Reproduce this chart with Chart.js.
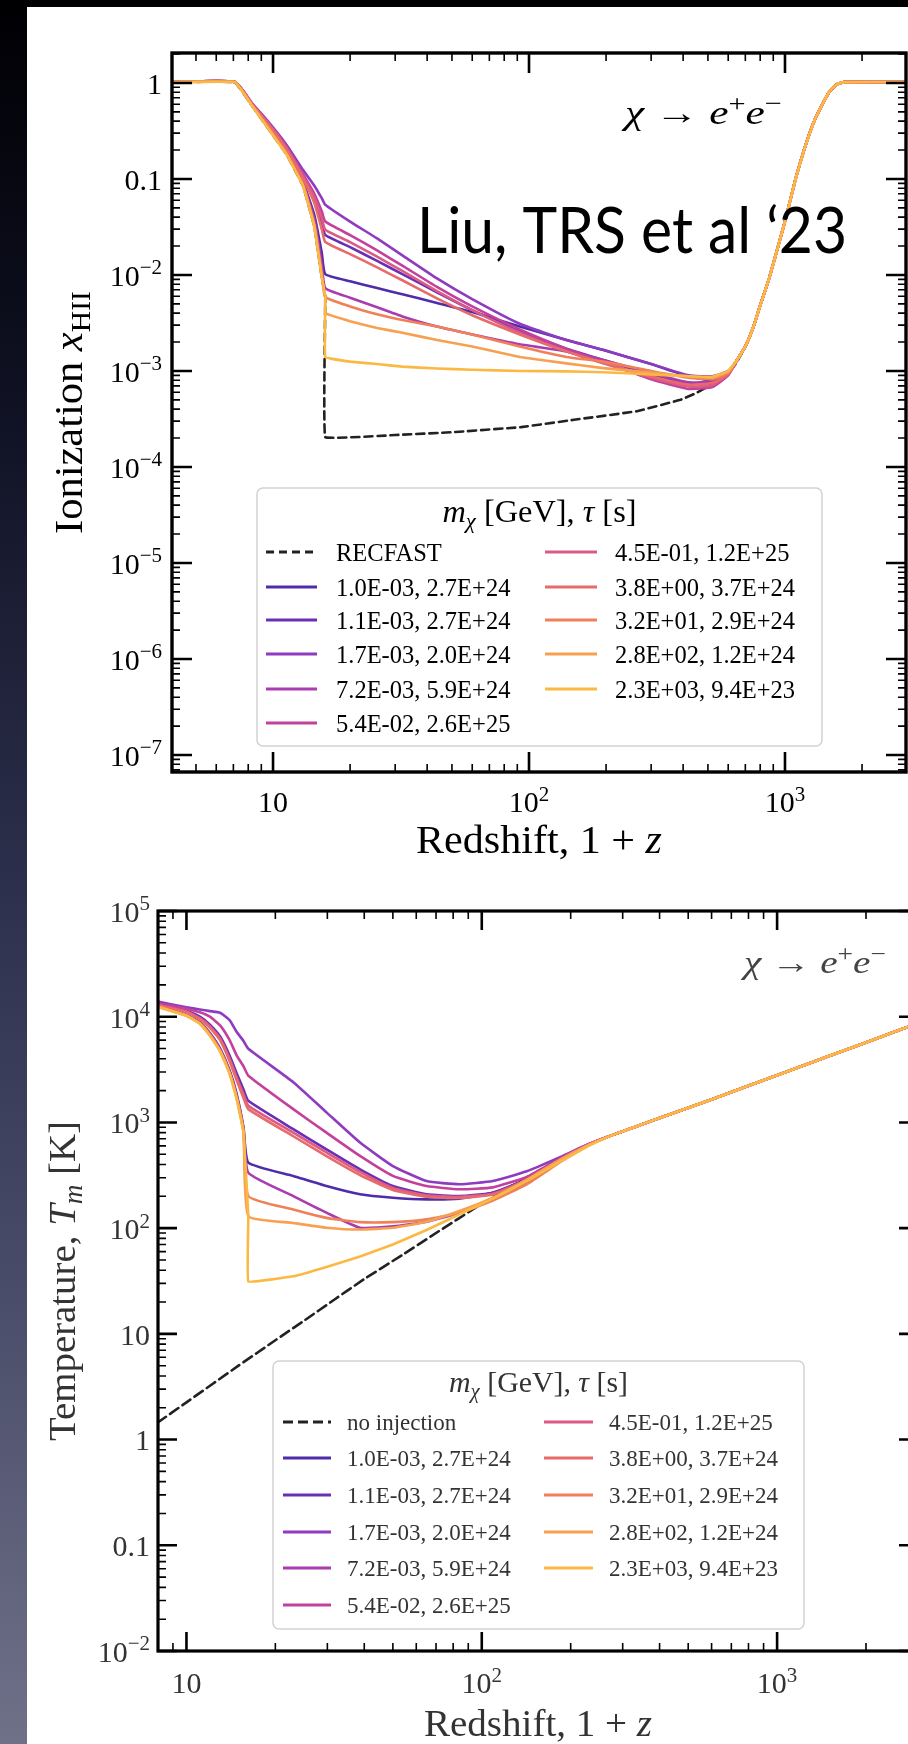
<!DOCTYPE html>
<html>
<head>
<meta charset="utf-8">
<script src="https://cdn.jsdelivr.net/npm/chart.js@4.4.1/dist/chart.umd.min.js"></script>
<style>
  html, body { margin: 0; padding: 0; width: 908px; height: 1744px; overflow: hidden; }
  body { position: relative; background: linear-gradient(#000003 0%, #111326 25%, #2c2f4b 50%, #4b4e6a 75%, #6f7189 100%); }
  #panel { position: absolute; left: 27px; top: 7px; width: 881px; height: 1737px; background: #fff; }
  canvas { position: absolute; left: 0; }
  #c1 { top: 0; }
  #c2 { top: 870px; }
</style>
</head>
<body>
<div id="panel"></div>
<canvas id="c1" width="908" height="870"></canvas>
<canvas id="c2" width="930" height="874"></canvas>
<script>
// ---- data ----
const seriesLabels = ['1.0E-03, 2.7E+24', '1.1E-03, 2.7E+24', '1.7E-03, 2.0E+24', '7.2E-03, 5.9E+24', '5.4E-02, 2.6E+25',
  '4.5E-01, 1.2E+25', '3.8E+00, 3.7E+24', '3.2E+01, 2.9E+24', '2.8E+02, 1.2E+24', '2.3E+03, 9.4E+23'];
const seriesColors = ['#4f2daa', '#6b2fb5', '#8e3bbf', '#a93cb0', '#c4409d', '#dc5a84', '#e76b6b', '#ef8058', '#f8a052', '#fbb944'];

// top panel: ionization fraction
const topDescX = [4, 7.1, 8.35, 9.7, 11.3, 13.1, 14.5, 15.5, 16];
const topDescY = [
  [1.02, 1.02, 0.57, 0.34, 0.19, 0.092, 0.042, 0.017, 0.0102],
  [1.02, 1.02, 0.58, 0.36, 0.205, 0.104, 0.06, 0.035, 0.026],
  [1.02, 1.02, 0.6, 0.38, 0.226, 0.124, 0.085, 0.063, 0.054],
  [1.02, 1.02, 0.57, 0.335, 0.186, 0.09, 0.038, 0.013, 0.0073],
  [1.02, 1.02, 0.59, 0.37, 0.215, 0.112, 0.07, 0.046, 0.036],
  [1.02, 1.02, 0.585, 0.365, 0.21, 0.107, 0.064, 0.039, 0.0295],
  [1.02, 1.02, 0.58, 0.355, 0.2, 0.1, 0.056, 0.03, 0.022],
  [1.02, 1.02, 0.565, 0.33, 0.183, 0.087, 0.034, 0.0105, 0.0059],
  [1.02, 1.02, 0.56, 0.32, 0.18, 0.085, 0.032, 0.0095, 0.0059],
  [1.02, 1.02, 0.56, 0.32, 0.18, 0.085, 0.032, 0.0095, 0.0059]
];
const topDropY = [null, null, null, null, null, null, null, null, 0.004, 0.0014];
const topPostX = [20, 25.5, 32, 43.7, 60, 92, 140, 195, 300, 420, 520, 600, 650];
const topPostY = [
  [0.0086, 0.0073, 0.0063, 0.0051, 0.0041, 0.0029, 0.0021, 0.00165, 0.00118, 0.00088, 0.0008, 0.00095, 0.0013],
  [0.0195, 0.014, 0.0102, 0.0066, 0.0043, 0.0026, 0.0017, 0.0013, 0.00092, 0.00074, 0.00076, 0.00095, 0.0013],
  [0.036, 0.024, 0.016, 0.0092, 0.0056, 0.0031, 0.0021, 0.00166, 0.00118, 0.0009, 0.00088, 0.001, 0.0013],
  [0.0058, 0.0046, 0.0037, 0.0029, 0.0024, 0.0019, 0.0016, 0.0013, 0.00095, 0.00076, 0.00078, 0.00095, 0.0013],
  [0.026, 0.018, 0.0125, 0.0075, 0.0047, 0.0027, 0.0017, 0.00125, 0.00082, 0.00065, 0.00068, 0.0009, 0.0013],
  [0.022, 0.0155, 0.011, 0.0068, 0.0043, 0.0025, 0.0016, 0.0012, 0.00085, 0.00069, 0.00071, 0.00092, 0.0013],
  [0.0165, 0.012, 0.0088, 0.0057, 0.0038, 0.0024, 0.0016, 0.00122, 0.00088, 0.00072, 0.00075, 0.00093, 0.0013],
  [0.0047, 0.0039, 0.0034, 0.0029, 0.0024, 0.0018, 0.0014, 0.00125, 0.001, 0.00085, 0.00082, 0.00096, 0.0013],
  [0.0033, 0.0028, 0.0025, 0.0021, 0.0018, 0.0014, 0.0012, 0.00107, 0.00096, 0.00088, 0.00085, 0.00098, 0.0013],
  [0.00125, 0.00118, 0.00111, 0.00106, 0.00103, 0.001, 0.00099, 0.00097, 0.00092, 0.00088, 0.00087, 0.001, 0.0013]
];
const topTailX = [700, 750, 800, 870, 950, 1010, 1100, 1200, 1300, 1400, 1500, 1600, 1700, 2970];
const topTailY = [0.0018, 0.0028, 0.0048, 0.0095, 0.022, 0.04, 0.1, 0.22, 0.4, 0.6, 0.83, 0.97, 1.02, 1.02];
const recfastDescY = [1.02, 1.02, 0.56, 0.32, 0.18, 0.085, 0.032, 0.0095, 0.0059];
const recfastDropY = 2.05e-4;
const recfastPostX = [30, 50, 93, 150, 263, 390, 445, 500, 557, 620, 650];
const recfastPostY = [2.15e-4, 2.3e-4, 2.6e-4, 3.1e-4, 3.8e-4, 5.0e-4, 5.8e-4, 6.9e-4, 8.5e-4, 1.05e-3, 1.25e-3];

// bottom panel: gas temperature
const botDescX = [8, 10, 11.1, 12, 13, 14, 14.8, 15.6, 16.2];
const botDescY = [
  [12700, 10400, 8900, 7000, 5000, 3100, 1850, 900, 417],
  [13000, 11400, 10000, 8400, 6500, 4300, 2900, 2050, 1600],
  [13900, 12300, 11700, 11300, 10900, 9300, 7160, 5900, 4970],
  [12600, 10350, 8800, 6900, 4900, 3000, 1780, 860, 334],
  [13300, 11900, 11000, 10000, 8270, 6000, 4290, 3400, 2770],
  [12900, 11200, 9700, 8100, 6200, 4000, 2650, 1850, 1437],
  [12800, 11100, 9500, 7900, 6000, 3800, 2500, 1700, 1336],
  [12500, 10300, 8700, 6800, 4800, 2950, 1720, 830, 201],
  [12400, 10200, 8600, 6650, 4700, 2900, 1660, 800, 130],
  [12400, 10200, 8600, 6650, 4700, 2900, 1660, 800, 130]
];
const botDropY = [null, null, null, null, null, null, null, null, null, 31.3];
const botPostX = [23, 29.8, 38.7, 50, 65, 84, 109, 142, 184, 230];
const botPostY = [
  [312, 250, 209, 194, 187, 190, 216, 290, 450, 620],
  [863, 556, 360, 250, 209, 201, 216, 290, 450, 620],
  [2400, 1245, 645, 387, 279, 260, 279, 345, 470, 625],
  [201, 140, 101, 104, 115, 140, 187, 275, 430, 612],
  [1336, 800, 482, 312, 250, 233, 243, 305, 455, 620],
  [800, 520, 340, 240, 205, 198, 212, 287, 448, 618],
  [740, 480, 318, 230, 198, 193, 208, 283, 445, 617],
  [150, 125, 114, 114, 121, 140, 182, 260, 420, 608],
  [112, 101, 97, 101, 115, 145, 194, 288, 442, 612],
  [35, 43, 54, 70, 96, 135, 190, 278, 425, 600]
];
const botTailX = [272, 400, 600, 1000, 2000, 3000];
const botTailY = [746, 1100, 1650, 2800, 5700, 8700];
const noInjX = [8, 10, 15, 20, 25, 32, 40, 55, 70, 100, 136, 170, 213];
const noInjY = [1.45, 2.25, 5.0, 8.7, 13.3, 21.5, 33, 58, 90, 170, 280, 400, 560];

// tick labels
const topXTicks = [10, 100, 1000];
const topXLabels = ['10', '10^2', '10^3'];
const topYTicks = [1, 0.1, 1e-2, 1e-3, 1e-4, 1e-5, 1e-6, 1e-7];
const topYLabels = ['1', '0.1', '10^\u22122', '10^\u22123', '10^\u22124', '10^\u22125', '10^\u22126', '10^\u22127'];
const botXTicks = [10, 100, 1000];
const botXLabels = ['10', '10^2', '10^3'];
const botYTicks = [1e5, 1e4, 1e3, 100, 10, 1, 0.1, 0.01];
const botYLabels = ['10^5', '10^4', '10^3', '10^2', '10', '1', '0.1', '10^\u22122'];

const SERIF = "'Liberation Serif', 'DejaVu Serif', serif";

function pts(xs, ys) {
  return xs.map((x, i) => ({ x: x, y: ys[i] }));
}

function series(descX, descY, drop, postX, postY, tailX, tailY) {
  let p = pts(descX, descY);
  if (drop != null) p.push({ x: descX[descX.length - 1], y: drop });
  return p.concat(pts(postX, postY), pts(tailX, tailY));
}

function makeDatasets(firstLabel, firstData, dash, descX, descY, dropY, postX, postY, tailX, tailY) {
  const n = seriesLabels.length;
  const out = [{
    label: firstLabel, data: firstData, borderColor: '#222', borderDash: dash,
    borderWidth: 2.6, order: n + 1, tension: 0.05
  }];
  seriesLabels.forEach((lab, i) => {
    out.push({
      label: lab,
      data: series(descX, descY[i], dropY[i], postX, postY[i], tailX, tailY),
      borderColor: seriesColors[i], borderWidth: 2.6, order: n - i,
      tension: dropY[i] != null ? 0.06 : 0.15
    });
  });
  return out;
}

// text with italic / superscript / subscript pieces
function drawRich(ctx, parts, x, y, size, align, targetW) {
  const items = [];
  let w = 0;
  for (const [t, f = ''] of parts) {
    const small = f.includes('^') || f.includes('_');
    ctx.font = (f.includes('i') ? 'italic ' : '') + (small ? size * 0.7 : size) + 'px ' + SERIF;
    items.push({ t: t, font: ctx.font, x: w, dy: f.includes('^') ? -size * 0.38 : f.includes('_') ? size * 0.2 : 0 });
    w += ctx.measureText(t).width;
  }
  const k = targetW ? targetW / w : 1;
  const left = align === 'right' ? x - w * k : align === 'center' ? x - w * k / 2 : x;
  ctx.save();
  ctx.translate(left, y);
  ctx.scale(k, 1);
  ctx.textAlign = 'left';
  for (const it of items) {
    ctx.font = it.font;
    ctx.fillText(it.t, it.x, it.dy);
  }
  ctx.restore();
}

function tickParts(s) {
  const bits = s.split('^');
  return bits.length > 1 ? [[bits[0]], [bits[1], '^']] : [[s]];
}

function minorTicks(lo, hi) {
  const out = [];
  for (let e = Math.floor(Math.log10(lo)); e <= Math.ceil(Math.log10(hi)); e++) {
    for (let k = 2; k < 10; k++) {
      const v = k * Math.pow(10, e);
      if (v > lo && v < hi) out.push(v);
    }
  }
  return out;
}

// matplotlib-like frame: inward ticks on all sides, labels, titles, legend
const framePlugin = {
  id: 'frame',
  afterDatasetsDraw(chart, args, o) {
    const ctx = chart.ctx, a = chart.chartArea;
    const sx = chart.scales.x, sy = chart.scales.y;
    ctx.save();
    ctx.strokeStyle = o.ink;
    ctx.lineCap = 'butt';
    const tickX = (v, len) => {
      const p = sx.getPixelForValue(v);
      ctx.beginPath();
      ctx.moveTo(p, a.bottom); ctx.lineTo(p, a.bottom - len);
      ctx.moveTo(p, a.top); ctx.lineTo(p, a.top + len);
      ctx.stroke();
    };
    const tickY = (v, len) => {
      const p = sy.getPixelForValue(v);
      ctx.beginPath();
      ctx.moveTo(a.left, p); ctx.lineTo(a.left + len, p);
      ctx.moveTo(a.right, p); ctx.lineTo(a.right - len, p);
      ctx.stroke();
    };
    ctx.lineWidth = o.minorW;
    minorTicks(sx.min, sx.max).forEach(v => tickX(v, o.minorLen));
    minorTicks(sy.min, sy.max).forEach(v => tickY(v, o.minorLen));
    ctx.lineWidth = o.majorW;
    o.xTicks.forEach(v => tickX(v, o.majorLen));
    o.yTicks.forEach(v => tickY(v, o.majorLen));
    ctx.lineWidth = o.spineW;
    ctx.strokeRect(a.left, a.top, a.right - a.left, a.bottom - a.top);

    ctx.fillStyle = o.labelInk;
    ctx.textBaseline = 'alphabetic';
    o.xTicks.forEach((v, i) => drawRich(ctx, tickParts(o.xLabels[i]), sx.getPixelForValue(v), a.bottom + o.xLabelOffset, o.tickSize, 'center'));
    o.yTicks.forEach((v, i) => drawRich(ctx, tickParts(o.yLabels[i]), a.left - o.yLabelGap, sy.getPixelForValue(v) + o.tickSize * 0.36, o.tickSize, 'right'));

    drawRich(ctx, o.xTitle, (a.left + a.right) / 2, o.xTitleY, o.titleSize, 'center', o.xTitleW);
    ctx.save();
    ctx.translate(o.yTitleX, (a.top + a.bottom) / 2);
    ctx.rotate(-Math.PI / 2);
    drawRich(ctx, o.yTitle, 0, o.titleSize * 0.33, o.titleSize, 'center', o.yTitleW);
    ctx.restore();

    const n = o.note;
    ctx.fillStyle = n.ink;
    drawRich(ctx, n.parts, n.x, n.y, n.size, 'left', n.w);

    const L = o.legend;
    const [x0, y0, x1, y1] = L.box;
    ctx.beginPath();
    if (ctx.roundRect) ctx.roundRect(x0, y0, x1 - x0, y1 - y0, 6); else ctx.rect(x0, y0, x1 - x0, y1 - y0);
    ctx.fillStyle = 'rgba(255,255,255,0.85)';
    ctx.fill();
    ctx.lineWidth = 1.5;
    ctx.strokeStyle = '#d2d2d2';
    ctx.stroke();
    ctx.fillStyle = o.labelInk;
    drawRich(ctx, L.title, (x0 + x1) / 2, L.titleY, L.titleSize, 'center', L.titleW);
    chart.data.datasets.forEach((ds, i) => {
      const col = i < L.rowY.length ? 0 : 1;
      const y = L.rowY[col ? i - L.rowY.length : i];
      const [lx0, lx1, tx] = L.cols[col];
      ctx.strokeStyle = ds.borderColor;
      ctx.lineWidth = 3;
      ctx.setLineDash(ds.borderDash || []);
      ctx.beginPath(); ctx.moveTo(lx0, y); ctx.lineTo(lx1, y); ctx.stroke();
      ctx.setLineDash([]);
      ctx.font = L.size + 'px ' + SERIF;
      ctx.fillStyle = o.labelInk;
      ctx.textAlign = 'left';
      ctx.fillText(ds.label, tx, y + L.size * 0.36);
    });

    if (o.credit) {
      const c = o.credit;
      ctx.font = c.size + "px Lato, 'Open Sans', sans-serif";
      const w = ctx.measureText(c.text).width;
      ctx.save();
      ctx.translate(c.x, c.y);
      ctx.scale(c.w / w, 1);
      ctx.fillStyle = '#000';
      ctx.fillText(c.text, 0, 0);
      ctx.restore();
    }
    ctx.restore();
  }
};

const arrowNote = [['\u03c7', 'i'], [' \u2192 '], ['e', 'i'], ['+', '^'], ['e', 'i'], ['\u2212', '^']];
const legendTitle = [['m', 'i'], ['\u03c7', 'i_'], [' [GeV], '], ['\u03c4', 'i'], [' [s]']];

function baseOptions(pad, xr, yr, frame) {
  return {
    responsive: false,
    animation: false,
    devicePixelRatio: 1,
    events: [],
    layout: { padding: pad },
    scales: {
      x: { type: 'logarithmic', min: xr[0], max: xr[1], display: false },
      y: { type: 'logarithmic', min: yr[0], max: yr[1], display: false }
    },
    elements: { point: { radius: 0 }, line: { borderCapStyle: 'round', borderJoinStyle: 'round' } },
    plugins: { legend: { display: false }, tooltip: { enabled: false }, frame: frame }
  };
}

// ---- top chart ----
const recfastData = series(topDescX, recfastDescY, recfastDropY, recfastPostX, recfastPostY, topTailX, topTailY);
new Chart(document.getElementById('c1'), {
  type: 'line',
  data: { datasets: makeDatasets('RECFAST', recfastData, [8, 5], topDescX, topDescY, topDropY, topPostX, topPostY, topTailX, topTailY) },
  options: baseOptions({ left: 172, top: 53, right: 2, bottom: 98 }, [4.03, 2970], [6.65e-8, 2.05], {
    ink: '#000', labelInk: '#000',
    majorLen: 20, minorLen: 8, majorW: 2.6, minorW: 1.6, spineW: 3.4,
    xTicks: topXTicks, xLabels: topXLabels, yTicks: topYTicks, yLabels: topYLabels,
    tickSize: 30, xLabelOffset: 40, yLabelGap: 10,
    xTitle: [['Redshift, 1 + '], ['z', 'i']], xTitleY: 853, xTitleW: 246, titleSize: 40,
    yTitle: [['Ionization '], ['x', 'i'], ['HII', '_']], yTitleX: 69, yTitleW: 243,
    note: { parts: arrowNote, x: 625, y: 124, size: 34, w: 157, ink: '#000' },
    legend: {
      box: [257, 488, 822, 746], title: legendTitle, titleY: 522, titleSize: 31, titleW: 194,
      rowY: [552, 587, 620, 654, 689, 723], cols: [[266, 317, 336], [545, 597, 615]], size: 24.5
    },
    credit: { text: 'Liu, TRS et al \u201823', x: 417, y: 253, size: 64, w: 430 }
  }),
  plugins: [framePlugin]
});

// ---- bottom chart (canvas starts at page y = 870) ----
const noInjData = pts(noInjX, noInjY).concat(pts(botTailX, botTailY));
new Chart(document.getElementById('c2'), {
  type: 'line',
  data: { datasets: makeDatasets('no injection', noInjData, [10, 5], botDescX, botDescY, botDropY, botPostX, botPostY, botTailX, botTailY) },
  options: baseOptions({ left: 158, top: 41, right: 12, bottom: 93 }, [8.01, 3000], [0.01, 1e5], {
    ink: '#000', labelInk: '#333',
    majorLen: 19, minorLen: 8, majorW: 2.6, minorW: 1.6, spineW: 3.2,
    xTicks: botXTicks, xLabels: botXLabels, yTicks: botYTicks, yLabels: botYLabels,
    tickSize: 30, xLabelOffset: 42, yLabelGap: 8,
    xTitle: [['Redshift, 1 + '], ['z', 'i']], xTitleY: 1736 - 870, xTitleW: 228, titleSize: 38,
    yTitle: [['Temperature, '], ['T', 'i'], ['m', 'i_'], [' [K]']], yTitleX: 62, yTitleW: 320,
    note: { parts: arrowNote, x: 744, y: 973 - 870, size: 32, w: 142, ink: '#444' },
    legend: {
      box: [273, 1361 - 870, 804, 1629 - 870], title: legendTitle, titleY: 1392 - 870, titleSize: 29, titleW: 179,
      rowY: [1422 - 870, 1458 - 870, 1495 - 870, 1532 - 870, 1568 - 870, 1605 - 870],
      cols: [[283, 331, 347], [544, 593, 609]], size: 23
    }
  }),
  plugins: [framePlugin]
});
</script>
</body>
</html>
